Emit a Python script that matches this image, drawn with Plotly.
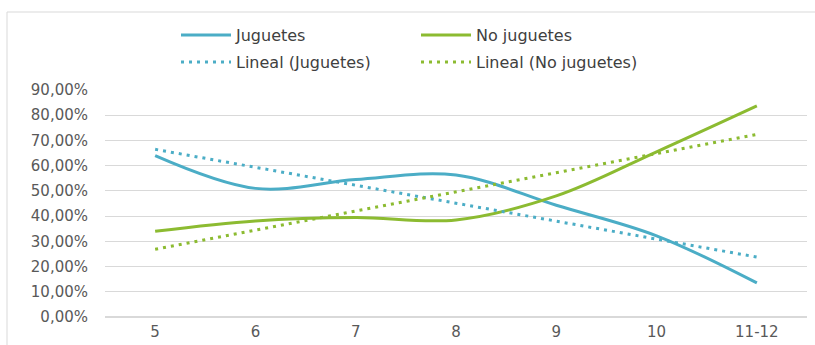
import numpy as np
import plotly.graph_objects as go

categories = ["5", "6", "7", "8", "9", "10", "11-12"]
juguetes = [0.64, 0.51, 0.545, 0.563, 0.443, 0.322, 0.135]
no_juguetes = [0.34, 0.381, 0.394, 0.385, 0.48, 0.655, 0.837]
y_ticks = [0, 0.1, 0.2, 0.3, 0.4, 0.5, 0.6, 0.7, 0.8, 0.9]

C_J = "#4BADC6"
C_N = "#8CBB31"

def trend(vals):
    xs = np.arange(len(vals))
    m, b = np.polyfit(xs, vals, 1)
    return list(m * xs + b)

fig = go.Figure()
fig.add_trace(go.Scatter(x=categories, y=juguetes, name="Juguetes", mode="lines",
                         line=dict(color=C_J, width=3, shape="spline", smoothing=1.0),
                         legend="legend"))
fig.add_trace(go.Scatter(x=categories, y=no_juguetes, name="No juguetes", mode="lines",
                         line=dict(color=C_N, width=3, shape="spline", smoothing=1.0),
                         legend="legend"))
fig.add_trace(go.Scatter(x=categories, y=trend(juguetes), name="Lineal (Juguetes)", mode="lines",
                         line=dict(color=C_J, width=3, dash="3px,5px"),
                         legend="legend2"))
fig.add_trace(go.Scatter(x=categories, y=trend(no_juguetes), name="Lineal (No juguetes)", mode="lines",
                         line=dict(color=C_N, width=3, dash="3px,5px"),
                         legend="legend2"))

legfont = dict(family="DejaVu Sans", size=16, color="#404040")
leg_common = dict(orientation="h", xref="container", yref="container", xanchor="left",
                  yanchor="middle", font=legfont, entrywidth=175, entrywidthmode="pixels",
                  itemwidth=50, bgcolor="rgba(0,0,0,0)", itemclick=False, traceorder="normal")

fig.update_layout(
    width=815, height=345,
    margin=dict(l=105, r=8, t=90, b=28, autoexpand=False),
    paper_bgcolor="white", plot_bgcolor="white",
    separators=",.",
    font=dict(family="DejaVu Sans", size=15, color="#595959"),
    legend=dict(x=176/815, y=1 - 35/345, **leg_common),
    legend2=dict(x=176/815, y=1 - 62/345, **leg_common),
    xaxis=dict(type="category", range=[-0.5, 6.5], showgrid=False, showline=False,
               zeroline=False, ticks="", tickfont=dict(size=15, color="#595959"),
               ticklabelstandoff=4),
    yaxis=dict(range=[0, 0.9], tickvals=y_ticks, tickformat=".2%", showgrid=True,
               gridcolor="#D9D9D9", gridwidth=1, zeroline=True, zerolinecolor="#D9D9D9",
               showline=False, ticks="", tickfont=dict(size=15, color="#595959"),
               ticklabelstandoff=16),
    shapes=[dict(type="rect", xref="paper", yref="paper",
                 x0=(7 - 105) / 702, x1=(840 - 105) / 702,
                 y0=(317 - 360) / 227, y1=(317 - 12) / 227,
                 line=dict(color="#D9D9D9", width=1), fillcolor="rgba(0,0,0,0)", layer="below")],
)

fig.write_html("out.html")
